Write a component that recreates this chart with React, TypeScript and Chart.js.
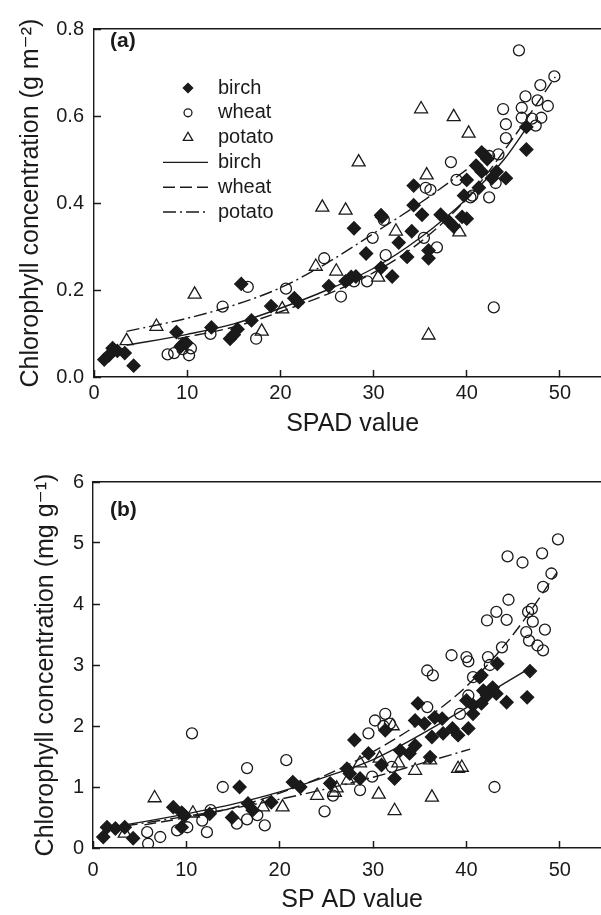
import { useEffect, useRef } from "react"
import { Chart, registerables } from "chart.js"

Chart.register(...registerables)

const FONT = "'Liberation Sans', Arial, Helvetica, 'DejaVu Sans', sans-serif"
const INK = "#1a1a1a"

type Pt = [number, number]

// (a) chlorophyll per leaf area (g m-2) vs SPAD
const birchA: Pt[] = [
  [1.1, 0.04], [1.6, 0.05], [2.0, 0.066], [2.5, 0.06], [3.3, 0.055], [4.25, 0.026], [8.85, 0.103], [9.3, 0.07],
  [9.5, 0.075], [9.9, 0.078], [12.6, 0.114], [14.6, 0.088], [15.0, 0.097], [15.4, 0.11], [15.8, 0.214], [16.9, 0.13],
  [19.0, 0.163], [21.5, 0.181], [21.9, 0.172], [25.2, 0.209], [27.0, 0.22], [27.6, 0.23], [27.9, 0.342], [28.1, 0.231],
  [29.2, 0.284], [30.8, 0.251], [30.8, 0.372], [30.9, 0.368], [32.0, 0.231], [32.7, 0.309], [33.6, 0.276], [34.1, 0.335],
  [34.3, 0.395], [34.3, 0.44], [35.2, 0.373], [35.9, 0.291], [35.9, 0.273], [37.2, 0.373], [38.1, 0.357], [38.6, 0.346],
  [39.5, 0.368], [40.0, 0.364], [39.7, 0.417], [40.0, 0.453], [41.0, 0.486], [41.3, 0.435], [41.6, 0.472], [41.6, 0.516],
  [42.0, 0.508], [42.2, 0.501], [42.7, 0.457], [43.2, 0.472], [44.2, 0.457], [46.4, 0.523], [46.4, 0.575],
]
const wheatA: Pt[] = [
  [7.9, 0.052], [8.6, 0.055], [9.5, 0.064], [10.2, 0.05], [10.4, 0.066], [12.5, 0.099], [13.8, 0.162], [16.5, 0.207],
  [17.4, 0.088], [20.6, 0.203], [24.7, 0.273], [26.5, 0.185], [27.9, 0.22], [29.3, 0.22], [29.9, 0.32], [31.1, 0.361],
  [31.3, 0.28], [35.4, 0.32], [35.6, 0.435], [36.1, 0.43], [36.8, 0.298], [38.3, 0.494], [38.9, 0.453], [40.4, 0.413],
  [40.6, 0.417], [42.4, 0.413], [42.4, 0.508], [42.9, 0.16], [43.1, 0.446], [43.4, 0.512], [43.9, 0.616], [44.2, 0.549],
  [44.2, 0.581], [45.6, 0.751], [45.9, 0.619], [45.9, 0.596], [46.3, 0.645], [47.0, 0.594], [47.4, 0.578], [47.6, 0.636],
  [47.9, 0.671], [48.0, 0.596], [48.7, 0.623], [49.4, 0.691],
]
const potatoA: Pt[] = [
  [3.5, 0.083], [6.7, 0.116], [10.8, 0.19], [18.0, 0.105], [20.2, 0.156], [23.8, 0.254], [24.5, 0.39], [26.0, 0.243],
  [27.0, 0.383], [28.4, 0.494], [30.5, 0.229], [32.4, 0.335], [35.1, 0.616], [35.7, 0.464], [35.9, 0.096], [38.6, 0.598],
  [39.2, 0.333], [40.2, 0.56],
]
// fitted curves
const birchFitA: Pt[] = [[3.5, 0.073], [10, 0.098], [15, 0.122], [20, 0.158], [25, 0.2], [30, 0.25], [35, 0.32], [40, 0.41], [44, 0.5], [46.5, 0.575]]
const wheatFitA: Pt[] = [[9, 0.088], [15, 0.115], [20, 0.15], [25, 0.19], [30, 0.24], [35, 0.31], [40, 0.41], [45, 0.55], [49.5, 0.69]]
const potatoFitA: Pt[] = [[3.5, 0.105], [10, 0.135], [15, 0.165], [20, 0.205], [25, 0.262], [30, 0.33], [35, 0.4], [40.2, 0.48]]

// (b) chlorophyll per fresh mass (mg g-1) vs SPAD
const birchB: Pt[] = [
  [1.1, 0.18], [1.5, 0.34], [2.4, 0.32], [3.4, 0.34], [4.3, 0.16], [8.6, 0.67], [9.5, 0.58], [9.8, 0.53], [9.5, 0.34],
  [12.5, 0.56], [14.9, 0.5], [15.7, 1.0], [16.6, 0.73], [17.1, 0.62], [19.1, 0.75], [21.4, 1.08], [22.2, 1.0], [25.4, 1.06],
  [27.2, 1.3], [27.5, 1.22], [28.0, 1.77], [28.6, 1.14], [29.5, 1.55], [30.9, 1.36], [31.3, 1.93], [32.3, 1.14], [32.9, 1.6],
  [33.9, 1.55], [34.5, 1.68], [34.5, 2.09], [34.8, 2.37], [35.5, 2.04], [36.1, 1.49], [36.3, 1.82], [36.6, 2.14], [37.4, 2.12],
  [37.5, 1.88], [38.5, 1.96], [39.1, 1.85], [40.2, 1.96], [40.0, 2.42], [40.7, 2.34], [40.7, 2.2], [41.4, 2.8], [41.6, 2.37],
  [41.6, 2.83], [41.8, 2.58], [42.2, 2.5], [42.8, 2.63], [43.2, 2.53], [43.3, 3.02], [44.3, 2.39], [46.5, 2.47], [46.8, 2.9],
]
const wheatB: Pt[] = [
  [5.8, 0.26], [5.9, 0.07], [7.2, 0.18], [9.0, 0.29], [10.1, 0.34], [10.6, 1.88], [11.7, 0.45], [12.2, 0.26], [12.6, 0.62],
  [13.9, 1.0], [15.4, 0.4], [16.5, 1.31], [16.5, 0.47], [17.6, 0.54], [18.4, 0.37], [20.7, 1.44], [24.8, 0.6], [25.7, 0.86],
  [28.6, 0.95], [29.5, 1.88], [29.9, 1.17], [30.2, 2.09], [31.1, 2.0], [31.3, 2.2], [31.8, 2.04], [32.0, 1.33], [35.8, 2.31],
  [35.8, 2.91], [36.4, 2.83], [38.4, 3.16], [39.3, 2.2], [40.0, 3.13], [40.2, 3.06], [40.2, 2.5], [40.7, 2.8], [42.2, 3.73],
  [42.3, 3.13], [42.5, 3.0], [43.0, 1.0], [43.2, 3.87], [43.8, 3.29], [44.3, 3.74], [44.4, 4.78], [44.5, 4.07], [46.0, 4.68],
  [46.4, 3.54], [46.6, 3.87], [46.7, 3.4], [47.0, 3.92], [47.1, 3.71], [47.6, 3.32], [48.1, 4.83], [48.2, 4.28], [48.2, 3.24],
  [48.4, 3.58], [49.1, 4.5], [49.8, 5.06],
]
const potatoB: Pt[] = [
  [3.4, 0.24], [6.6, 0.82], [10.7, 0.57], [18.2, 0.67], [20.3, 0.67], [24.0, 0.86], [25.9, 0.91], [26.1, 0.98], [27.3, 1.11],
  [28.6, 1.39], [30.6, 0.88], [30.7, 1.47], [32.1, 2.0], [32.3, 0.61], [32.7, 1.39], [34.5, 1.27], [36.1, 1.44], [36.3, 0.83],
  [39.1, 1.3], [39.5, 1.32],
]
const birchFitB: Pt[] = [[1, 0.32], [5, 0.42], [10, 0.56], [15, 0.72], [20, 0.92], [25, 1.17], [30, 1.45], [35, 1.85], [40, 2.3], [43, 2.6], [46.8, 2.95]]
const wheatFitB: Pt[] = [[5.5, 0.38], [10, 0.5], [15, 0.66], [20, 0.9], [25, 1.2], [30, 1.58], [35, 2.05], [40, 2.65], [45, 3.5], [49.7, 4.52]]
const potatoFitB: Pt[] = [[3.4, 0.36], [10, 0.52], [15, 0.65], [20, 0.8], [25, 0.97], [30, 1.16], [35, 1.38], [40.4, 1.62]]

const seriesNames = ["birch", "wheat", "potato"]

const toXY = (pts: Pt[]) => pts.map(([x, y]) => ({ x, y }))

function makeDatasets(points: Pt[][], fits: Pt[][]) {
  const styles = [
    { pointStyle: "rectRot", pointRadius: 6.5, backgroundColor: INK },
    { pointStyle: "circle", pointRadius: 5.5, backgroundColor: "rgba(0,0,0,0)" },
    { pointStyle: "triangle", pointRadius: 7.5, backgroundColor: "rgba(0,0,0,0)" },
  ]
  const dashes = [[], [12, 5], [13, 4, 2, 4]]
  const pointSets = points.map((p, i) => ({
    label: seriesNames[i],
    data: toXY(p),
    ...styles[i],
    borderColor: INK,
    borderWidth: 1.3,
    showLine: false,
  }))
  const lineSets = fits.map((p, i) => ({
    label: seriesNames[i],
    data: toXY(p),
    showLine: true,
    pointRadius: 0,
    borderColor: INK,
    borderWidth: 1.4,
    borderDash: dashes[i],
    cubicInterpolationMode: "monotone",
    fill: false,
  }))
  return [...pointSets, ...lineSets]
}

function drawMarker(ctx: CanvasRenderingContext2D, style: string, x: number, y: number, r: number, fill: string) {
  ctx.beginPath()
  if (style === "rectRot") {
    ctx.moveTo(x - r, y)
    ctx.lineTo(x, y - r)
    ctx.lineTo(x + r, y)
    ctx.lineTo(x, y + r)
    ctx.closePath()
  } else if (style === "triangle") {
    ctx.moveTo(x, y - r)
    ctx.lineTo(x + r * 0.866, y + r * 0.5)
    ctx.lineTo(x - r * 0.866, y + r * 0.5)
    ctx.closePath()
  } else {
    ctx.arc(x, y, r, 0, Math.PI * 2)
  }
  ctx.fillStyle = fill
  ctx.fill()
  ctx.stroke()
}

// legend sits inside the plot of panel (a)
const insideLegend = {
  id: "insideLegend",
  afterDatasetsDraw(chart: any, _args: any, opts: any) {
    if (!opts || !opts.show) return
    const { ctx } = chart
    ctx.save()
    ctx.strokeStyle = INK
    chart.data.datasets.forEach((ds: any, i: number) => {
      const y = opts.y + i * opts.rowGap
      ctx.lineWidth = ds.borderWidth
      if (ds.showLine) {
        ctx.setLineDash(ds.borderDash || [])
        ctx.beginPath()
        ctx.moveTo(opts.lineX0, y)
        ctx.lineTo(opts.lineX1, y)
        ctx.stroke()
        ctx.setLineDash([])
      } else {
        drawMarker(ctx, ds.pointStyle, opts.markerX, y, ds.pointRadius * 0.72, ds.backgroundColor)
      }
      ctx.fillStyle = INK
      ctx.font = `20px ${FONT}`
      ctx.textBaseline = "middle"
      ctx.textAlign = "left"
      ctx.fillText(ds.label, opts.textX, y)
    })
    ctx.restore()
  },
}

const panelLabel = {
  id: "panelLabel",
  afterDraw(chart: any, _args: any, opts: any) {
    if (!opts || !opts.text) return
    const { ctx } = chart
    ctx.save()
    ctx.fillStyle = INK
    ctx.font = `bold 21px ${FONT}`
    ctx.textBaseline = "middle"
    ctx.fillText(opts.text, opts.x, opts.y)
    ctx.restore()
  },
}

interface PanelCfg {
  height: number
  padTop: number
  padRight: number
  yWidth: number
  xHeight: number
  yMax: number
  yStep: number
  yDigits: number
  yTitle: string
  yTitlePad: number
  yTickPad: number
  xTitle: string
  xTitlePad: number
  xTickPad: number
  label: string
  labelY: number
  legend: boolean
  points: Pt[][]
  fits: Pt[][]
}

const panelA: PanelCfg = {
  height: 445, padTop: 15, padRight: 7.6, yWidth: 94, xHeight: 68,
  yMax: 0.8, yStep: 0.2, yDigits: 1,
  yTitle: "Chlorophyll concentration (g m\u207B\u00B2)", yTitlePad: 16, yTickPad: 17,
  xTitle: "SPAD value", xTitlePad: 6, xTickPad: 11,
  label: "(a)", labelY: 41, legend: true,
  points: [birchA, wheatA, potatoA], fits: [birchFitA, wheatFitA, potatoFitA],
}

const panelB: PanelCfg = {
  height: 465, padTop: 32, padRight: 8.6, yWidth: 93, xHeight: 67,
  yMax: 6, yStep: 1, yDigits: 0,
  yTitle: "Chlorophyll concentration (mg g\u207B\u00B9)", yTitlePad: 31, yTickPad: 16,
  xTitle: "SP AD value", xTitlePad: 0, xTickPad: 17,
  label: "(b)", labelY: 60, legend: false,
  points: [birchB, wheatB, potatoB], fits: [birchFitB, wheatFitB, potatoFitB],
}

function Panel({ cfg }: { cfg: PanelCfg }) {
  const canvasRef = useRef<HTMLCanvasElement | null>(null)

  useEffect(() => {
    if (!canvasRef.current) return
    Chart.defaults.font.family = FONT
    Chart.defaults.color = INK

    const chart = new Chart(canvasRef.current, {
      type: "scatter",
      data: { datasets: makeDatasets(cfg.points, cfg.fits) as any },
      plugins: [insideLegend, panelLabel],
      options: {
        animation: false,
        responsive: true,
        maintainAspectRatio: false,
        layout: { padding: { top: cfg.padTop, right: cfg.padRight, left: 0, bottom: 0 } },
        plugins: {
          legend: { display: false },
          tooltip: { enabled: false },
          insideLegend: { show: cfg.legend, markerX: 188, textX: 218, lineX0: 163, lineX1: 208, y: 88, rowGap: 24.8 },
          panelLabel: { text: cfg.label, x: 110, y: cfg.labelY },
        } as any,
        scales: {
          x: {
            type: "linear",
            min: 0,
            max: 55.5,
            afterFit: (s: any) => { s.height = cfg.xHeight },
            border: { color: INK, width: 1.4 },
            grid: { drawOnChartArea: false, tickLength: -7, color: INK, tickWidth: 1.5 },
            ticks: { stepSize: 10, includeBounds: false, padding: cfg.xTickPad, color: INK, font: { size: 20 }, maxRotation: 0 },
            title: { display: true, text: cfg.xTitle, color: INK, font: { size: 25 }, padding: { top: 0, bottom: cfg.xTitlePad } },
          },
          xTop: {
            type: "linear",
            position: "top",
            afterFit: (s: any) => { s.height = 0 },
            border: { display: true, color: INK, width: 1.4 },
            grid: { display: false },
            ticks: { display: false },
          },
          y: {
            type: "linear",
            min: 0,
            max: cfg.yMax,
            afterFit: (s: any) => { s.width = cfg.yWidth },
            border: { color: INK, width: 1.4 },
            grid: { drawOnChartArea: false, tickLength: -7, color: INK, tickWidth: 1.5 },
            ticks: {
              stepSize: cfg.yStep,
              padding: cfg.yTickPad,
              color: INK,
              font: { size: 20 },
              callback: (v: any) => Number(v).toFixed(cfg.yDigits),
            },
            title: { display: true, text: cfg.yTitle, color: INK, font: { size: 25 }, padding: { top: cfg.yTitlePad, bottom: 0 } },
          },
        },
      } as any,
    })

    return () => chart.destroy()
  }, [cfg])

  return (
    <div style={{ position: "relative", width: 620, height: cfg.height }}>
      <canvas ref={canvasRef}></canvas>
    </div>
  )
}

export default function App() {
  return (
    <div style={{ position: "absolute", left: 0, top: 0, width: 601, height: 915, overflow: "hidden", background: "#fff" }}>
      <Panel cfg={panelA} />
      <div style={{ height: 5 }} />
      <Panel cfg={panelB} />
    </div>
  )
}
